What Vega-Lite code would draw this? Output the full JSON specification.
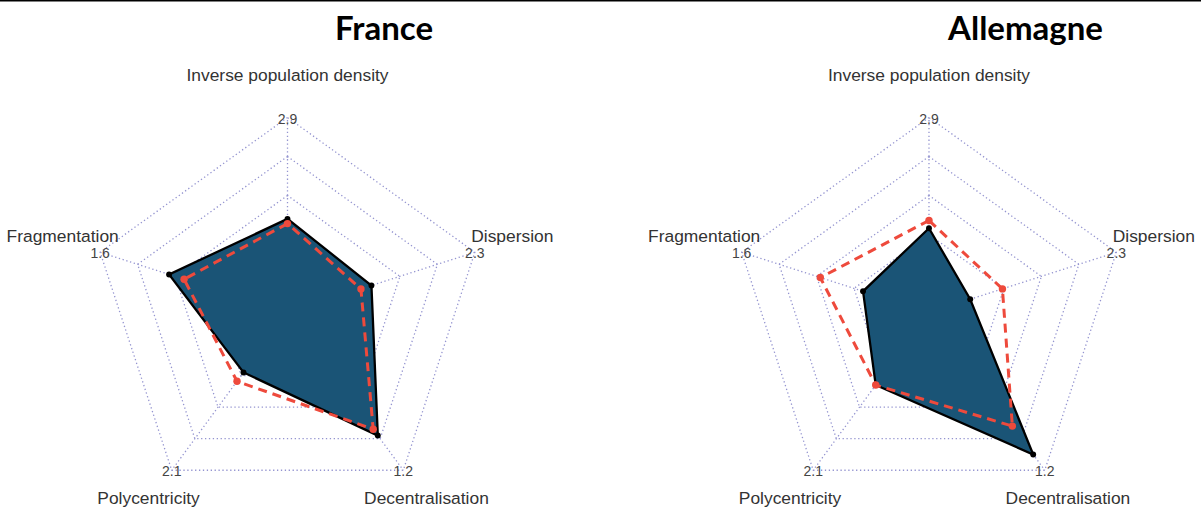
{
  "$schema": "https://vega.github.io/schema/vega-lite/v6.json",
  "width": 1201,
  "height": 510,
  "padding": 0,
  "autosize": "none",
  "background": "white",
  "config": {"view": {"stroke": null}},
  "datasets": {
    "axes": [
      {"axis": "Inverse population density", "k": 0, "max": "2.9", "panel": ["France", "Allemagne"], "level": [1, 2, 3, 4, 5]},
      {"axis": "Fragmentation", "k": 1, "max": "1.6", "panel": ["France", "Allemagne"], "level": [1, 2, 3, 4, 5]},
      {"axis": "Polycentricity", "k": 2, "max": "2.1", "panel": ["France", "Allemagne"], "level": [1, 2, 3, 4, 5]},
      {"axis": "Decentralisation", "k": 3, "max": "1.2", "panel": ["France", "Allemagne"], "level": [1, 2, 3, 4, 5]},
      {"axis": "Dispersion", "k": 4, "max": "2.3", "panel": ["France", "Allemagne"], "level": [1, 2, 3, 4, 5]}
    ],
    "scores": [
      {"panel": "France", "series": "Pays", "axis": "Inverse population density", "score": 0.35},
      {"panel": "France", "series": "Pays", "axis": "Fragmentation", "score": 0.54},
      {"panel": "France", "series": "Pays", "axis": "Polycentricity", "score": 0.225},
      {"panel": "France", "series": "Pays", "axis": "Decentralisation", "score": 0.725},
      {"panel": "France", "series": "Pays", "axis": "Dispersion", "score": 0.31},
      {"panel": "France", "series": "Moyenne", "axis": "Inverse population density", "score": 0.32},
      {"panel": "France", "series": "Moyenne", "axis": "Fragmentation", "score": 0.44},
      {"panel": "France", "series": "Moyenne", "axis": "Polycentricity", "score": 0.295},
      {"panel": "France", "series": "Moyenne", "axis": "Decentralisation", "score": 0.675},
      {"panel": "France", "series": "Moyenne", "axis": "Dispersion", "score": 0.24},
      {"panel": "Allemagne", "series": "Pays", "axis": "Inverse population density", "score": 0.29},
      {"panel": "Allemagne", "series": "Pays", "axis": "Fragmentation", "score": 0.19},
      {"panel": "Allemagne", "series": "Pays", "axis": "Polycentricity", "score": 0.325},
      {"panel": "Allemagne", "series": "Pays", "axis": "Decentralisation", "score": 0.875},
      {"panel": "Allemagne", "series": "Pays", "axis": "Dispersion", "score": 0.025},
      {"panel": "Allemagne", "series": "Moyenne", "axis": "Inverse population density", "score": 0.34},
      {"panel": "Allemagne", "series": "Moyenne", "axis": "Fragmentation", "score": 0.475},
      {"panel": "Allemagne", "series": "Moyenne", "axis": "Polycentricity", "score": 0.325},
      {"panel": "Allemagne", "series": "Moyenne", "axis": "Decentralisation", "score": 0.65},
      {"panel": "Allemagne", "series": "Moyenne", "axis": "Dispersion", "score": 0.24}
    ],
    "titles": [
      {"panel": "France"},
      {"panel": "Allemagne"}
    ]
  },
  "layer": [
    {
      "data": {"name": "axes"},
      "transform": [
        {"flatten": ["panel"]},
        {"flatten": ["level"]},
        {"calculate": "datum.panel === 'France' ? 0 : 3.2563", "as": "off"},
        {"calculate": "PI/2 + datum.k*2*PI/5", "as": "theta"},
        {"calculate": "datum.off + datum.level/5*cos(datum.theta)", "as": "x"},
        {"calculate": "datum.level/5*sin(datum.theta)", "as": "y"}
      ],
      "mark": {"type": "line", "interpolate": "linear-closed", "stroke": "#9494d0", "strokeWidth": 1.3, "strokeDash": [1.3, 2.6]},
      "encoding": {
        "x": {"field": "x", "type": "quantitative", "scale": {"domain": [-1.4594, 4.6371], "nice": false, "zero": false}, "axis": null},
        "y": {"field": "y", "type": "quantitative", "scale": {"domain": [-1.0128, 1.6026], "nice": false, "zero": false}, "axis": null},
        "detail": [{"field": "panel"}, {"field": "level"}],
        "order": {"field": "k", "type": "quantitative"}
      }
    },
    {
      "data": {"name": "axes"},
      "transform": [
        {"flatten": ["panel"]},
        {"calculate": "datum.panel === 'France' ? 0 : 3.2563", "as": "off"},
        {"calculate": "PI/2 + datum.k*2*PI/5", "as": "theta"},
        {"calculate": "datum.off + 0.2*cos(datum.theta)", "as": "x"},
        {"calculate": "0.2*sin(datum.theta)", "as": "y"},
        {"calculate": "datum.off + cos(datum.theta)", "as": "x2"},
        {"calculate": "sin(datum.theta)", "as": "y2"}
      ],
      "mark": {"type": "rule", "stroke": "#9494d0", "strokeWidth": 1.3, "strokeDash": [1.3, 2.6]},
      "encoding": {
        "x": {"field": "x", "type": "quantitative", "scale": {"domain": [-1.4594, 4.6371], "nice": false, "zero": false}, "axis": null},
        "y": {"field": "y", "type": "quantitative", "scale": {"domain": [-1.0128, 1.6026], "nice": false, "zero": false}, "axis": null},
        "x2": {"field": "x2"},
        "y2": {"field": "y2"}
      }
    },
    {
      "data": {"name": "scores"},
      "transform": [
        {"filter": "datum.series === 'Pays'"},
        {"lookup": "axis", "from": {"data": {"name": "axes"}, "key": "axis", "fields": ["k"]}},
        {"calculate": "datum.panel === 'France' ? 0 : 3.2563", "as": "off"},
        {"calculate": "PI/2 + datum.k*2*PI/5", "as": "theta"},
        {"calculate": "0.2 + 0.8*datum.score", "as": "r"},
        {"calculate": "datum.off + datum.r*cos(datum.theta)", "as": "x"},
        {"calculate": "datum.r*sin(datum.theta)", "as": "y"}
      ],
      "mark": {"type": "line", "interpolate": "linear-closed", "fill": "#1a5476", "stroke": "#000000", "strokeWidth": 2.3},
      "encoding": {
        "x": {"field": "x", "type": "quantitative", "scale": {"domain": [-1.4594, 4.6371], "nice": false, "zero": false}, "axis": null},
        "y": {"field": "y", "type": "quantitative", "scale": {"domain": [-1.0128, 1.6026], "nice": false, "zero": false}, "axis": null},
        "detail": {"field": "panel"},
        "order": {"field": "k", "type": "quantitative"}
      }
    },
    {
      "data": {"name": "scores"},
      "transform": [
        {"filter": "datum.series === 'Pays'"},
        {"lookup": "axis", "from": {"data": {"name": "axes"}, "key": "axis", "fields": ["k"]}},
        {"calculate": "datum.panel === 'France' ? 0 : 3.2563", "as": "off"},
        {"calculate": "PI/2 + datum.k*2*PI/5", "as": "theta"},
        {"calculate": "0.2 + 0.8*datum.score", "as": "r"},
        {"calculate": "datum.off + datum.r*cos(datum.theta)", "as": "x"},
        {"calculate": "datum.r*sin(datum.theta)", "as": "y"}
      ],
      "mark": {"type": "point", "filled": true, "fill": "#000000", "size": 35, "opacity": 1},
      "encoding": {
        "x": {"field": "x", "type": "quantitative", "scale": {"domain": [-1.4594, 4.6371], "nice": false, "zero": false}, "axis": null},
        "y": {"field": "y", "type": "quantitative", "scale": {"domain": [-1.0128, 1.6026], "nice": false, "zero": false}, "axis": null}
      }
    },
    {
      "data": {"name": "scores"},
      "transform": [
        {"filter": "datum.series === 'Moyenne'"},
        {"lookup": "axis", "from": {"data": {"name": "axes"}, "key": "axis", "fields": ["k"]}},
        {"calculate": "datum.panel === 'France' ? 0 : 3.2563", "as": "off"},
        {"calculate": "PI/2 + datum.k*2*PI/5", "as": "theta"},
        {"calculate": "0.2 + 0.8*datum.score", "as": "r"},
        {"calculate": "datum.off + datum.r*cos(datum.theta)", "as": "x"},
        {"calculate": "datum.r*sin(datum.theta)", "as": "y"}
      ],
      "mark": {"type": "line", "interpolate": "linear-closed", "stroke": "#ee4a3c", "strokeWidth": 3, "strokeDash": [9, 6]},
      "encoding": {
        "x": {"field": "x", "type": "quantitative", "scale": {"domain": [-1.4594, 4.6371], "nice": false, "zero": false}, "axis": null},
        "y": {"field": "y", "type": "quantitative", "scale": {"domain": [-1.0128, 1.6026], "nice": false, "zero": false}, "axis": null},
        "detail": {"field": "panel"},
        "order": {"field": "k", "type": "quantitative"}
      }
    },
    {
      "data": {"name": "scores"},
      "transform": [
        {"filter": "datum.series === 'Moyenne'"},
        {"lookup": "axis", "from": {"data": {"name": "axes"}, "key": "axis", "fields": ["k"]}},
        {"calculate": "datum.panel === 'France' ? 0 : 3.2563", "as": "off"},
        {"calculate": "PI/2 + datum.k*2*PI/5", "as": "theta"},
        {"calculate": "0.2 + 0.8*datum.score", "as": "r"},
        {"calculate": "datum.off + datum.r*cos(datum.theta)", "as": "x"},
        {"calculate": "datum.r*sin(datum.theta)", "as": "y"}
      ],
      "mark": {"type": "point", "filled": true, "fill": "#ee4a3c", "size": 55, "opacity": 1},
      "encoding": {
        "x": {"field": "x", "type": "quantitative", "scale": {"domain": [-1.4594, 4.6371], "nice": false, "zero": false}, "axis": null},
        "y": {"field": "y", "type": "quantitative", "scale": {"domain": [-1.0128, 1.6026], "nice": false, "zero": false}, "axis": null}
      }
    },
    {
      "data": {"name": "axes"},
      "transform": [
        {"flatten": ["panel"]},
        {"calculate": "datum.panel === 'France' ? 0 : 3.2563", "as": "off"},
        {"calculate": "PI/2 + datum.k*2*PI/5", "as": "theta"},
        {"calculate": "datum.off + 1.2*cos(datum.theta)", "as": "x"},
        {"calculate": "1.2*sin(datum.theta)", "as": "y"}
      ],
      "mark": {"type": "text", "font": "Liberation Sans", "fontSize": 17.4, "fill": "#333333", "baseline": "middle", "align": "center", "dy": -3},
      "encoding": {
        "x": {"field": "x", "type": "quantitative", "scale": {"domain": [-1.4594, 4.6371], "nice": false, "zero": false}, "axis": null},
        "y": {"field": "y", "type": "quantitative", "scale": {"domain": [-1.0128, 1.6026], "nice": false, "zero": false}, "axis": null},
        "text": {"field": "axis"}
      }
    },
    {
      "data": {"name": "axes"},
      "transform": [
        {"flatten": ["panel"]},
        {"calculate": "datum.panel === 'France' ? 0 : 3.2563", "as": "off"},
        {"calculate": "PI/2 + datum.k*2*PI/5", "as": "theta"},
        {"calculate": "datum.off + cos(datum.theta)", "as": "x"},
        {"calculate": "sin(datum.theta)", "as": "y"}
      ],
      "mark": {"type": "text", "font": "Liberation Sans", "fontSize": 14, "fill": "#444444", "baseline": "middle", "align": "center", "dy": 2},
      "encoding": {
        "x": {"field": "x", "type": "quantitative", "scale": {"domain": [-1.4594, 4.6371], "nice": false, "zero": false}, "axis": null},
        "y": {"field": "y", "type": "quantitative", "scale": {"domain": [-1.0128, 1.6026], "nice": false, "zero": false}, "axis": null},
        "text": {"field": "max"}
      }
    },
    {
      "data": {"name": "titles"},
      "transform": [
        {"calculate": "(datum.panel === 'France' ? 0 : 3.2563) + 0.49", "as": "x"},
        {"calculate": "1.449", "as": "y"}
      ],
      "mark": {"type": "text", "font": "Lato", "fontWeight": "bold", "fontSize": 33, "fill": "#000000", "baseline": "middle", "align": "center"},
      "encoding": {
        "x": {"field": "x", "type": "quantitative", "scale": {"domain": [-1.4594, 4.6371], "nice": false, "zero": false}, "axis": null},
        "y": {"field": "y", "type": "quantitative", "scale": {"domain": [-1.0128, 1.6026], "nice": false, "zero": false}, "axis": null},
        "text": {"field": "panel"}
      }
    },
    {
      "data": {"values": [{"edge": "top"}]},
      "mark": {"type": "rule", "stroke": "#000000", "strokeWidth": 3},
      "encoding": {
        "y": {"datum": 1.6026, "type": "quantitative", "scale": {"domain": [-1.0128, 1.6026], "nice": false, "zero": false}, "axis": null}
      }
    }
  ]
}
